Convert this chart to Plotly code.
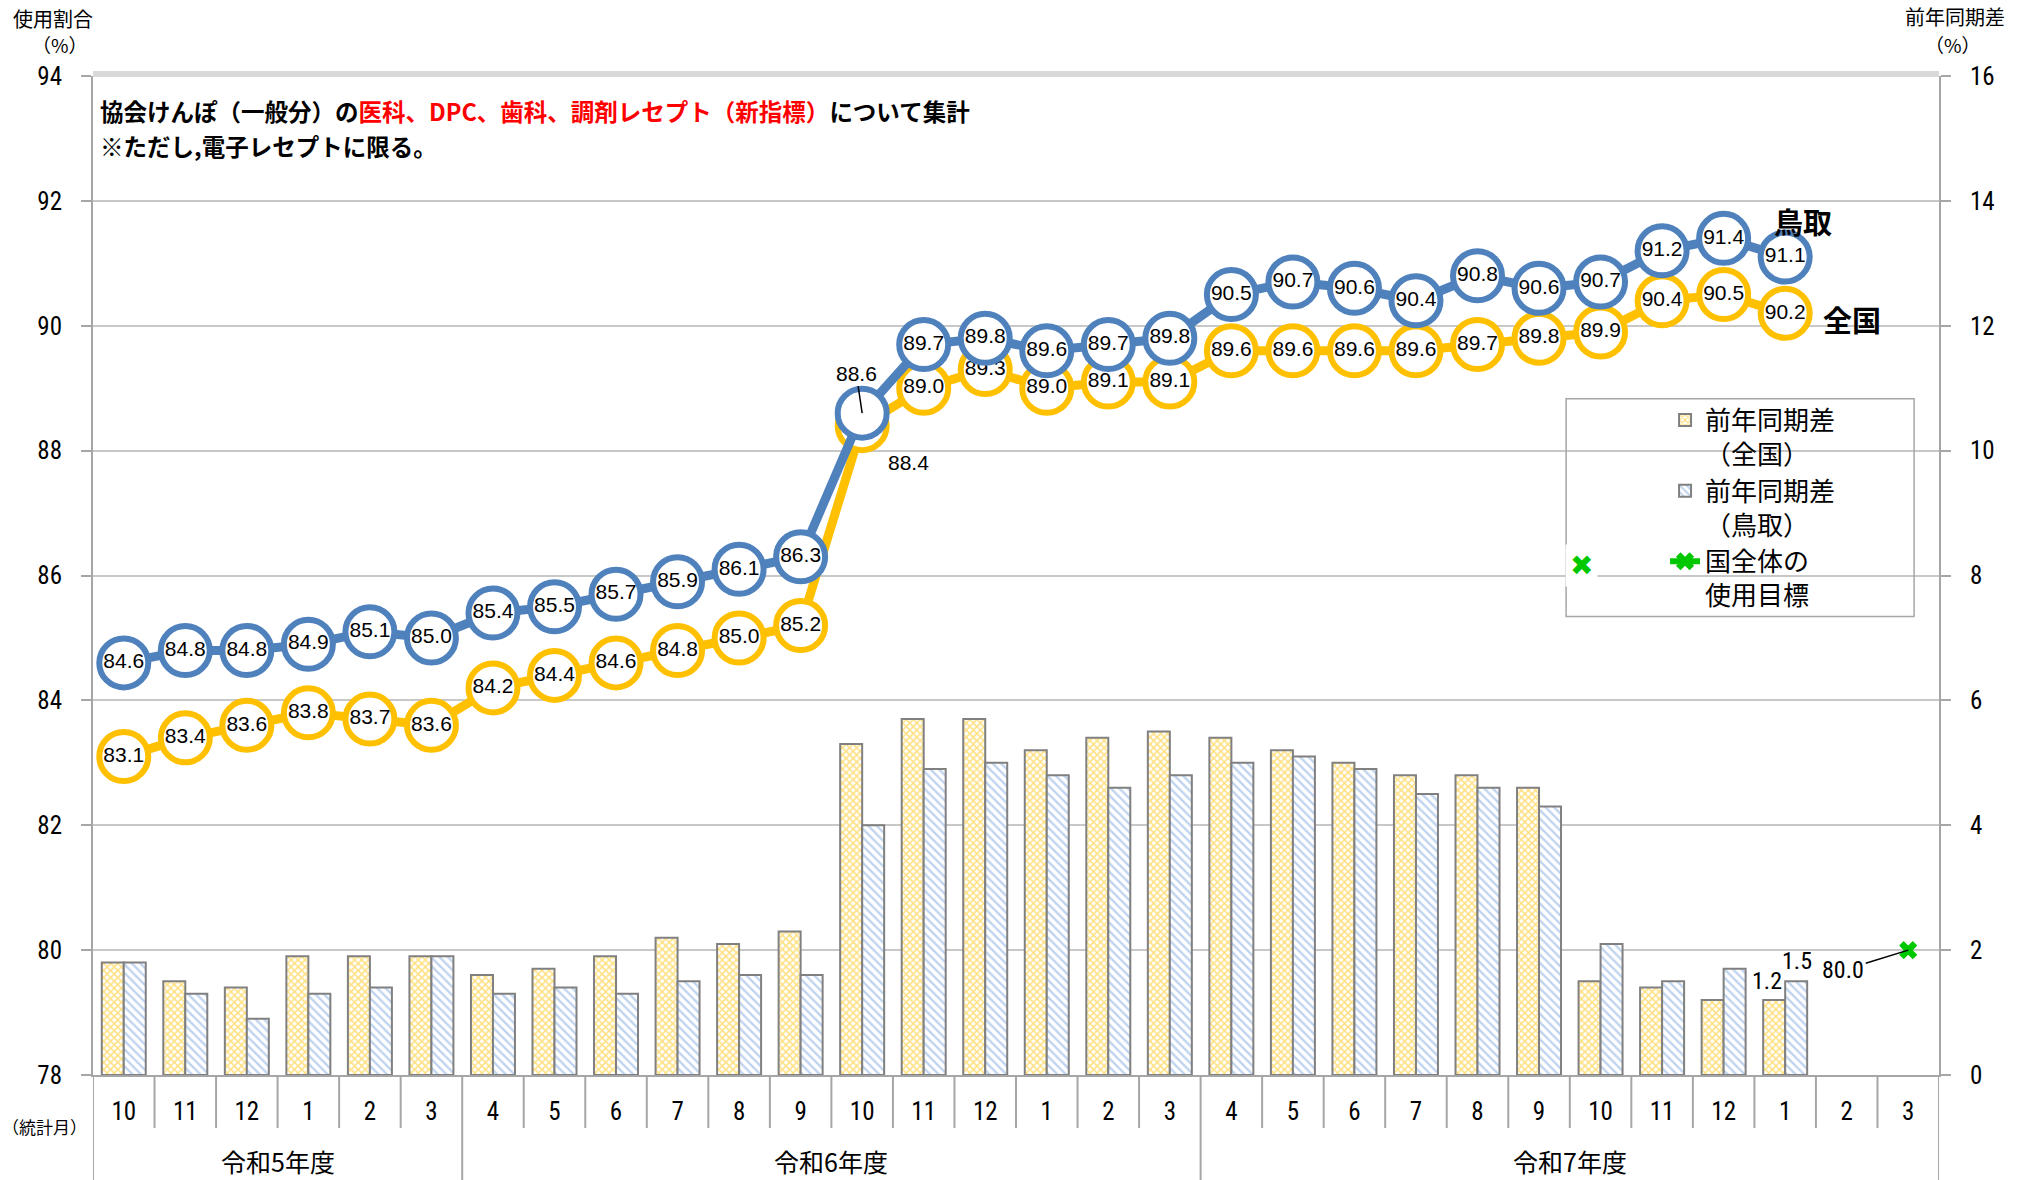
import plotly.graph_objects as go

# ---------------- data ----------------
months = ["10", "11", "12", "1", "2", "3",
          "4", "5", "6", "7", "8", "9", "10", "11", "12", "1", "2", "3",
          "4", "5", "6", "7", "8", "9", "10", "11", "12", "1", "2", "3"]
fiscal_years = ["令和5年度", "令和6年度", "令和7年度"]
fiscal_year_counts = [6, 12, 12]

tottori_rate = [84.6, 84.8, 84.8, 84.9, 85.1, 85.0, 85.4, 85.5, 85.7, 85.9, 86.1, 86.3,
                88.6, 89.7, 89.8, 89.6, 89.7, 89.8, 90.5, 90.7, 90.6, 90.4, 90.8, 90.6,
                90.7, 91.2, 91.4, 91.1]
national_rate = [83.1, 83.4, 83.6, 83.8, 83.7, 83.6, 84.2, 84.4, 84.6, 84.8, 85.0, 85.2,
                 88.4, 89.0, 89.3, 89.0, 89.1, 89.1, 89.6, 89.6, 89.6, 89.6, 89.7, 89.8,
                 89.9, 90.4, 90.5, 90.2]
national_diff = [1.8, 1.5, 1.4, 1.9, 1.9, 1.9, 1.6, 1.7, 1.9, 2.2, 2.1, 2.3,
                 5.3, 5.7, 5.7, 5.2, 5.4, 5.5, 5.4, 5.2, 5.0, 4.8, 4.8, 4.6,
                 1.5, 1.4, 1.2, 1.2]
tottori_diff = [1.8, 1.3, 0.9, 1.3, 1.4, 1.9, 1.3, 1.4, 1.3, 1.5, 1.6, 1.6,
                4.0, 4.9, 5.0, 4.8, 4.6, 4.8, 5.0, 5.1, 4.9, 4.5, 4.6, 4.3,
                2.1, 1.5, 1.7, 1.5]
target_month_index = [29]
target_value = [80.0]

left_ticks = [78, 80, 82, 84, 86, 88, 90, 92, 94]
right_ticks = [0, 2, 4, 6, 8, 10, 12, 14, 16]

# ---------------- styles ----------------
BLUE = "#4F81BD"
YELLOW = "#FFC000"
GREEN = "#00C800"
GRAY = "#A6A6A6"
JP = "Noto Sans CJK JP"
NARROW = "Liberation Sans Narrow, Arial Narrow, Roboto Condensed, Roboto, sans-serif"
ARIAL = "Liberation Sans, Arial, sans-serif"

n_data = len(tottori_rate)
x_data = list(range(n_data))
x_all = list(range(len(months)))
SPECIAL = 12  # month whose labels are drawn outside the markers

fig = go.Figure()

fig.add_trace(go.Bar(
    x=x_data, y=national_diff, name="前年同期差<br>（全国）", legendgroup="a",
    yaxis="y",
    marker=dict(color="white", line=dict(color="#808080", width=2),
                pattern=dict(shape="x", fgcolor=YELLOW, bgcolor="white", size=5, solidity=0.5)),
))
fig.add_trace(go.Bar(
    x=x_data, y=tottori_diff, name="前年同期差<br>（鳥取）", legendgroup="b",
    yaxis="y",
    marker=dict(color="white", line=dict(color="#808080", width=2),
                pattern=dict(shape="\\", fgcolor="#7FA7DF", bgcolor="white", size=6, solidity=0.4)),
))

nat_text = [f"{v:.1f}" for v in national_rate]
tot_text = [f"{v:.1f}" for v in tottori_rate]
nat_text[SPECIAL] = ""
tot_text[SPECIAL] = ""

fig.add_trace(go.Scatter(
    x=x_data, y=national_rate, yaxis="y2", mode="lines+markers+text", showlegend=False,
    line=dict(color=YELLOW, width=9),
    marker=dict(symbol="circle", size=49, color="white", line=dict(color=YELLOW, width=6)),
    text=nat_text, textposition="middle center",
    textfont=dict(family=ARIAL, size=21, color="black"), cliponaxis=False,
))
fig.add_trace(go.Scatter(
    x=x_data, y=tottori_rate, yaxis="y2", mode="lines+markers+text", showlegend=False,
    line=dict(color=BLUE, width=9),
    marker=dict(symbol="circle", size=49, color="white", line=dict(color=BLUE, width=6)),
    text=tot_text, textposition="middle center",
    textfont=dict(family=ARIAL, size=21, color="black"), cliponaxis=False,
))
fig.add_trace(go.Scatter(
    x=target_month_index, y=target_value, yaxis="y2", mode="lines+markers",
    name="国全体の<br>使用目標", legendgroup="c",
    line=dict(color=GREEN, width=6),
    marker=dict(symbol="x", size=16, color=GREEN), cliponaxis=False,
))

# ---------------- axis & separators ----------------
shapes = []
boundaries = [-0.5]
for c in fiscal_year_counts:
    boundaries.append(boundaries[-1] + c)
for i in range(1, len(months)):
    b = i - 0.5
    if b in boundaries:
        continue
    shapes.append(dict(type="line", xref="x", yref="paper", x0=b, x1=b, y0=0, y1=-0.053,
                       line=dict(color=GRAY, width=2)))
for b in boundaries:
    shapes.append(dict(type="line", xref="x", yref="paper", x0=b, x1=b, y0=0, y1=-0.11,
                       line=dict(color=GRAY, width=2)))
# top border band
shapes.append(dict(type="line", xref="paper", yref="paper", x0=0, x1=1, y0=1.002, y1=1.002,
                   line=dict(color="#D9D9D9", width=6)))
# legend box
shapes.append(dict(type="rect", xref="paper", yref="paper", x0=0.798, x1=0.9865, y0=0.459, y1=0.677,
                   line=dict(color=GRAY, width=1.5)))

annotations = []
for i, fy in enumerate(fiscal_years):
    center = (boundaries[i] + boundaries[i + 1]) / 2
    annotations.append(dict(x=center, y=-0.086, xref="x", yref="paper", text=fy, showarrow=False,
                            xanchor="center", yanchor="middle",
                            font=dict(family=JP, size=25, color="black")))


def paper_text(x, y, text, size, **kw):
    d = dict(x=x, y=y, xref="paper", yref="paper", text=text, showarrow=False,
             xanchor="center", yanchor="middle", font=dict(family=JP, size=size, color="black"))
    d.update(kw)
    return d


annotations += [
    paper_text(-0.0215, 1.058, "使用割合", 20),
    paper_text(-0.018, 1.032, "（%）", 19),
    paper_text(1.0087, 1.060, "前年同期差", 20),
    paper_text(1.0076, 1.032, "（%）", 19),
    paper_text(-0.0265, -0.052, "（統計月）", 17),
    paper_text(0.0027, 0.965,
               "<b>協会けんぽ（一般分）の<span style='color:#FF0000'>医科、DPC、歯科、調剤レセプト（新指標）</span>について集計</b>",
               23.5, xanchor="left"),
    paper_text(0.0027, 0.930, "<b>※ただし,電子レセプトに限る。</b>", 23.5, xanchor="left"),
    # stray legend marker
    paper_text(0.8066, 0.51, "✖", 28, bgcolor="white", borderpad=4,
               font=dict(family="DejaVu Sans", size=28, color=GREEN)),
    # series name labels
    dict(x=27.29, y=91.68, xref="x", yref="y2", text="<b>鳥取</b>", showarrow=False,
         font=dict(family=JP, size=29, color="black")),
    dict(x=28.09, y=90.11, xref="x", yref="y2", text="<b>全国</b>", showarrow=False,
         font=dict(family=JP, size=29, color="black")),
    # special labels for month 12
    dict(x=x_data[SPECIAL], y=tottori_rate[SPECIAL], xref="x", yref="y2",
         text=f"{tottori_rate[SPECIAL]:.1f}", showarrow=True, arrowhead=0, arrowwidth=1.5,
         arrowcolor="black", ax=-6, ay=-40, standoff=0,
         font=dict(family=ARIAL, size=21, color="black")),
    dict(x=x_data[SPECIAL], y=national_rate[SPECIAL], xref="x", yref="y2",
         text=f"{national_rate[SPECIAL]:.1f}", showarrow=False, xshift=46, yshift=-37,
         font=dict(family=ARIAL, size=21, color="black")),
    # last bar labels
    dict(x=x_data[-1], y=national_diff[-1], xref="x", yref="y", text=f"{national_diff[-1]:.1f}",
         showarrow=False, xshift=-18, yanchor="bottom", yshift=3,
         font=dict(family=NARROW, size=24, color="black")),
    dict(x=x_data[-1], y=tottori_diff[-1], xref="x", yref="y", text=f"{tottori_diff[-1]:.1f}",
         showarrow=False, xshift=12, yanchor="bottom", yshift=4,
         font=dict(family=NARROW, size=24, color="black")),
    # target label
    dict(x=target_month_index[0], y=target_value[0], xref="x", yref="y2",
         text=f"{target_value[0]:.1f}", showarrow=True, arrowhead=0, arrowwidth=1.5,
         arrowcolor="black", ax=-65, ay=20, standoff=0,
         font=dict(family=NARROW, size=24, color="black")),
]

fig.update_layout(
    width=2028, height=1180, autosize=False,
    margin=dict(l=93, r=89, t=76, b=105),
    paper_bgcolor="white", plot_bgcolor="white",
    barmode="group", bargap=0.285, bargroupgap=0,
    showlegend=True,
    legend=dict(x=0.8516, y=0.679, xanchor="left", yanchor="top", bgcolor="rgba(0,0,0,0)",
                font=dict(family=JP, size=26, color="black"), valign="top",
                traceorder="normal", tracegroupgap=2),
    xaxis=dict(range=[-0.5, len(months) - 0.5], tickmode="array", tickvals=x_all, ticktext=months,
               ticks="", showgrid=False, showline=True, linecolor=GRAY, linewidth=2,
               tickfont=dict(family=NARROW, size=25, color="black"), ticklabelstandoff=13,
               zeroline=False, fixedrange=True),
    yaxis=dict(side="right", range=[0, 16], tickmode="array", tickvals=right_ticks,
               showgrid=True, gridcolor="#C8C8C8", gridwidth=1.5, zeroline=False,
               showline=True, linecolor=GRAY, linewidth=2, ticks="outside", ticklen=10,
               tickcolor=GRAY, tickwidth=2, ticklabelstandoff=14,
               tickfont=dict(family=NARROW, size=25, color="black")),
    yaxis2=dict(side="left", overlaying="y", range=[78, 94], tickmode="array", tickvals=left_ticks,
                showgrid=False, zeroline=False, showline=True, linecolor=GRAY, linewidth=2,
                ticks="outside", ticklen=10, tickcolor=GRAY, tickwidth=2, ticklabelstandoff=14,
                tickfont=dict(family=NARROW, size=25, color="black")),
    shapes=shapes,
    annotations=annotations,
)

fig.write_html(
    "out.html",
    config={"displayModeBar": False},
    post_script="document.body.style.margin='0';document.body.style.overflow='hidden';",
)
